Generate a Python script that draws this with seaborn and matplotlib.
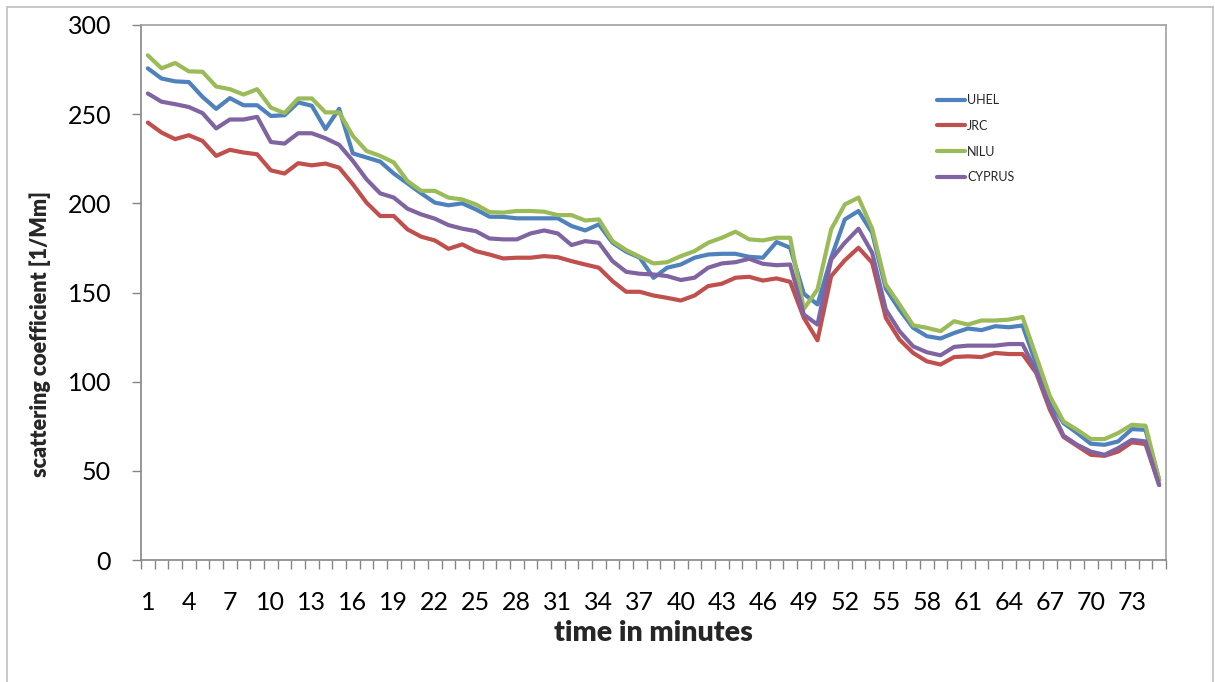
import numpy as np
import pandas as pd
import matplotlib
matplotlib.use("Agg")
import matplotlib.pyplot as plt
import seaborn as sns
from matplotlib.lines import Line2D
from matplotlib.ticker import FixedLocator, FixedFormatter, NullFormatter

minutes = list(range(1, 76))

uhel = [275.7, 270, 268.4, 268, 259.7, 253, 259, 255, 255, 249,
        249.4, 256.6, 254.7, 241.6, 253, 228, 225.7, 223.4, 216.7, 211.2,
        205.6, 200.4, 198.9, 200, 196.6, 192.5, 192.4, 191.6, 191.6, 191.6,
        191.6, 187.3, 184.8, 188.2, 177.9, 172.9, 169.5, 158.2, 163.9, 165.7,
        169.5, 171.3, 171.7, 171.7, 170, 169.5, 178.3, 175.1, 149.3, 143.3,
        169.5, 191, 195.7, 183.5, 152.1, 140.4, 130.2, 125.5, 124.2, 127.3,
        129.8, 128.9, 131.1, 130.5, 131.5, 110, 89, 76.8, 71.2, 65.2,
        64.6, 66.5, 73.4, 73, 44.9]

jrc = [245.3, 239.7, 236, 238.2, 235, 226.6, 230, 228.5, 227.5, 218.5,
       216.7, 222.5, 221.3, 222.3, 220, 210.7, 200.4, 192.9, 192.9, 185.4,
       181.3, 179.2, 174.5, 177, 173.2, 171.3, 169.1, 169.5, 169.5, 170.4,
       169.8, 167.6, 165.7, 163.9, 156.4, 150.4, 150.4, 148.3, 147, 145.5,
       148.3, 153.6, 154.9, 158.3, 158.8, 156.7, 157.9, 156, 135.8, 123.2,
       159.2, 168.1, 175.1, 166.7, 135.8, 123.6, 116.1, 111.4, 109.6, 113.8,
       114.2, 113.8, 116.1, 115.5, 115.5, 104.9, 84.3, 69, 64, 59,
       58.4, 60.8, 66, 65, 42]

nilu = [283, 275.7, 278.7, 274, 273.8, 265.5, 264, 261, 264, 253.7,
        250.6, 258.8, 258.8, 251, 251, 237.8, 229.4, 226.6, 222.9, 212.5,
        207, 207, 203.2, 202.2, 199.4, 195.1, 194.8, 195.7, 195.7, 195.3,
        193.4, 193.4, 190.4, 191, 178.8, 173.8, 170, 166.3, 167, 170.4,
        173.2, 177.9, 180.7, 184.1, 179.8, 179.2, 180.7, 180.7, 140.8, 151.7,
        185.4, 199.4, 203.2, 185.8, 154.5, 143.3, 131.6, 130.2, 128.3, 133.9,
        132, 134.3, 134.3, 134.8, 136.3, 114.2, 92, 77.7, 73, 67.8,
        67.8, 71.2, 75.8, 75.3, 44.9]

cyprus = [261.6, 257, 255.6, 254, 250.6, 242, 247, 247, 248.5, 234.4,
          233.5, 239.3, 239.3, 236.5, 232.8, 223.8, 213.5, 205.6, 203.2, 197,
          193.8, 191.4, 187.8, 185.8, 184.4, 180.3, 179.8, 179.8, 183.1, 184.8,
          183.1, 176.6, 178.8, 177.9, 167.6, 161.6, 160.5, 160.1, 159.2, 157,
          158.3, 163.9, 166.3, 167, 168.9, 166.1, 165.3, 165.7, 137.6, 132,
          168.5, 177.9, 185.8, 172.3, 140.4, 128.3, 119.8, 116.5, 114.8, 119.5,
          120.2, 120.2, 120.2, 121.1, 121.1, 105.8, 86.1, 69.7, 64.6, 60.8,
          59, 62.7, 67.4, 66.5, 42.1]

series_names = ["UHEL", "JRC", "NILU", "CYPRUS"]
series_colors = ["#4F81BD", "#C0504D", "#9BBB59", "#8064A2"]
x_tick_labels = [str(v) for v in range(1, 76, 3)]
y_ticks = [0, 50, 100, 150, 200, 250, 300]

df = pd.DataFrame({"minute": minutes, "UHEL": uhel, "JRC": jrc,
                   "NILU": nilu, "CYPRUS": cyprus})
long = df.melt(id_vars="minute", var_name="station", value_name="value")

sns.set_style("white")
plt.rcParams["font.family"] = ["Lato", "DejaVu Sans"]

W, H = 1215, 682
fig = plt.figure(figsize=(W / 100, H / 100), dpi=100)
L, R, T, B = 141, 1166, 25, 560
ax = fig.add_axes([L / W, 1 - B / H, (R - L) / W, (B - T) / H])

sns.lineplot(data=long, x="minute", y="value", hue="station",
             hue_order=series_names, palette=series_colors,
             linewidth=3.0, ax=ax, legend=True, sort=False)
for ln in ax.get_lines():
    ln.set_solid_joinstyle("round")
    ln.set_solid_capstyle("round")

ax.set_xlim(0.5, 75.5)
ax.set_ylim(0, 300)

# ticks between categories, labels every 3 minutes
ax.xaxis.set_major_locator(FixedLocator(np.arange(0.5, 76, 1.0)))
ax.xaxis.set_major_formatter(NullFormatter())
ax.xaxis.set_minor_locator(FixedLocator(list(range(1, 76, 3))))
ax.xaxis.set_minor_formatter(FixedFormatter(x_tick_labels))
ax.tick_params(axis="x", which="major", direction="out", length=6.5,
               width=1, color="#868686", bottom=True)
ax.tick_params(axis="x", which="minor", length=0, pad=22, labelsize=18,
               labelcolor="black")

ax.set_yticks(y_ticks)
ax.set_yticklabels([str(v) for v in y_ticks])
ax.tick_params(axis="y", direction="out", length=6.5, width=1,
               color="#868686", left=True, pad=15, labelsize=18,
               labelcolor="black")

for side in ["left", "bottom"]:
    ax.spines[side].set_color("#868686")
    ax.spines[side].set_linewidth(1.2)
for side in ["top", "right"]:
    ax.spines[side].set_color("#A0A0A0")
    ax.spines[side].set_linewidth(1.2)
ax.grid(False)

ax.set_xlabel("time in minutes", fontsize=20.5, fontweight="heavy",
              labelpad=4.6)
ax.set_ylabel("scattering coefficient [1/Mm]", fontsize=15.5,
              fontweight="heavy")
ax.yaxis.label.set_va("center")
ax.yaxis.set_label_coords((40 - L) / (R - L), (B - 334) / (B - T))

handles, labels = ax.get_legend_handles_labels()
leg = ax.legend(handles, labels, loc="upper left",
                bbox_to_anchor=(937 / W, 1 - 94 / H),
                bbox_transform=fig.transFigure, frameon=False,
                fontsize=9, handlelength=2.2, handletextpad=0.2,
                labelspacing=1.1, borderpad=0, borderaxespad=0)
for h in leg.get_lines():
    h.set_linewidth(3.0)

# outer chart border
border_color = "#BFBFBF"
fig.add_artist(Line2D([7 / W, 7 / W], [0, 1 - 7 / H], color=border_color,
                      linewidth=1.2, transform=fig.transFigure))
fig.add_artist(Line2D([7 / W, 1213 / W], [1 - 7 / H, 1 - 7 / H],
                      color=border_color, linewidth=1.2,
                      transform=fig.transFigure))
fig.add_artist(Line2D([1213 / W, 1213 / W], [0, 1 - 7 / H],
                      color=border_color, linewidth=1.2,
                      transform=fig.transFigure))

fig.savefig("out.png", dpi=100)
